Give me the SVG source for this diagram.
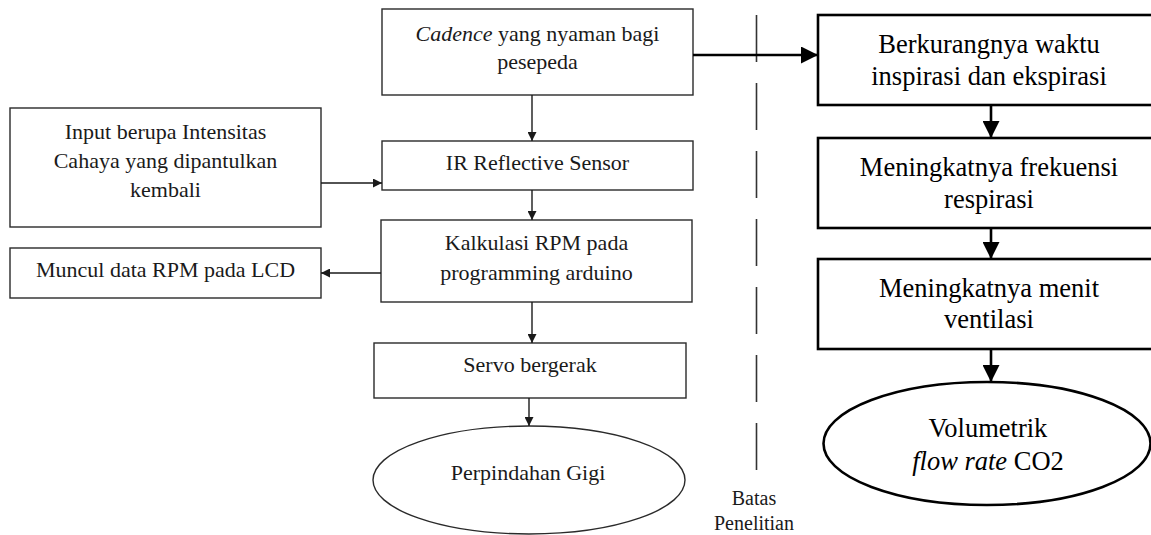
<svg xmlns="http://www.w3.org/2000/svg" width="1151" height="535" viewBox="0 0 1151 535">
<style>
  .lbox { fill: #fff; stroke: #2a2a2a; stroke-width: 1.4; }
  .rbox { fill: #fff; stroke: #000; stroke-width: 2.6; }
  text { font-family: 'Liberation Serif', 'DejaVu Serif', serif; text-anchor: middle; }
  .lt { font-size: 22px; fill: #1a1a1a; }
  .rt { font-size: 26.5px; fill: #000; }
  .st { font-size: 20px; fill: #1a1a1a; }
  .lc { stroke: #1a1a1a; stroke-width: 1.4; fill: none; }
  .rc { stroke: #000; stroke-width: 2.6; fill: none; }
  .it { font-style: italic; }
</style>
<defs>
  <marker id="ah" viewBox="0 0 10 10" refX="10" refY="5" markerUnits="userSpaceOnUse" markerWidth="9" markerHeight="9" orient="auto">
    <path d="M0,0 L10,5 L0,10 Z" fill="#1a1a1a"/>
  </marker>
  <marker id="ahb" viewBox="0 0 10 10" refX="10" refY="5" markerUnits="userSpaceOnUse" markerWidth="18" markerHeight="17" orient="auto">
    <path d="M0,0 L10,5 L0,10 Z" fill="#000"/>
  </marker>
</defs>
<rect width="1151" height="535" fill="#fff"/>

<g id="cadence">
  <rect class="lbox" x="382" y="9" width="311" height="86"/>
  <text class="lt" x="537.5" y="41" font-family="Liberation Serif, serif"><tspan class="it">Cadence</tspan> yang nyaman bagi</text>
  <text class="lt" x="537.5" y="69" font-family="Liberation Serif, serif">pesepeda</text>
</g>
<g id="input">
  <rect class="lbox" x="10" y="108" width="311" height="119"/>
  <text class="lt" x="165.5" y="139">Input berupa Intensitas</text>
  <text class="lt" x="165.5" y="168">Cahaya yang dipantulkan</text>
  <text class="lt" x="165.5" y="197">kembali</text>
</g>
<g id="ir">
  <rect class="lbox" x="382" y="141" width="311" height="49"/>
  <text class="lt" x="537.5" y="170">IR Reflective Sensor</text>
</g>
<g id="kalkulasi">
  <rect class="lbox" x="381" y="220" width="311" height="82"/>
  <text class="lt" x="536.5" y="250">Kalkulasi RPM pada</text>
  <text class="lt" x="536.5" y="280">programming arduino</text>
</g>
<g id="muncul">
  <rect class="lbox" x="10" y="248" width="311" height="50"/>
  <text class="lt" x="165.5" y="277">Muncul data RPM pada LCD</text>
</g>
<g id="servo">
  <rect class="lbox" x="374" y="343" width="312" height="55"/>
  <text class="lt" x="530" y="372">Servo bergerak</text>
</g>
<g id="perpindahan">
  <ellipse class="lbox" cx="529" cy="480" rx="156" ry="54"/>
  <text class="lt" x="528" y="480">Perpindahan Gigi</text>
</g>

<g id="berkurang">
  <rect class="rbox" x="818" y="15" width="345" height="90"/>
  <text class="rt" x="989" y="53">Berkurangnya waktu</text>
  <text class="rt" x="989" y="85">inspirasi dan ekspirasi</text>
</g>
<g id="frekuensi">
  <rect class="rbox" x="818" y="138" width="345" height="90"/>
  <text class="rt" x="989" y="176">Meningkatnya frekuensi</text>
  <text class="rt" x="989" y="208">respirasi</text>
</g>
<g id="menit">
  <rect class="rbox" x="818" y="259" width="345" height="90"/>
  <text class="rt" x="989" y="297">Meningkatnya menit</text>
  <text class="rt" x="989" y="328">ventilasi</text>
</g>
<g id="volumetrik">
  <ellipse class="rbox" cx="987" cy="443.5" rx="163.5" ry="61.5"/>
  <text class="rt" x="988" y="437">Volumetrik</text>
  <text class="rt" x="988" y="470"><tspan class="it">flow rate</tspan> CO2</text>
</g>

<g id="batas">
  <line x1="756.5" y1="15" x2="756.5" y2="470" stroke="#333" stroke-width="1.6" stroke-dasharray="47 21"/>
  <text class="st" x="754" y="505">Batas</text>
  <text class="st" x="754" y="530">Penelitian</text>
</g>

<g id="connectors">
  <line class="lc" x1="532" y1="95" x2="532" y2="141" marker-end="url(#ah)"/>
  <line class="lc" x1="321" y1="183" x2="382" y2="183" marker-end="url(#ah)"/>
  <line class="lc" x1="532" y1="190" x2="532" y2="220" marker-end="url(#ah)"/>
  <line class="lc" x1="381" y1="273" x2="321" y2="273" marker-end="url(#ah)"/>
  <line class="lc" x1="532" y1="302" x2="532" y2="343" marker-end="url(#ah)"/>
  <line class="lc" x1="529" y1="398" x2="529" y2="426" marker-end="url(#ah)"/>
  <line class="rc" x1="693" y1="55" x2="818" y2="55" marker-end="url(#ahb)"/>
  <line class="rc" x1="991" y1="105" x2="991" y2="138" marker-end="url(#ahb)"/>
  <line class="rc" x1="991" y1="228" x2="991" y2="259" marker-end="url(#ahb)"/>
  <line class="rc" x1="991" y1="349" x2="991" y2="382" marker-end="url(#ahb)"/>
</g>
</svg>
